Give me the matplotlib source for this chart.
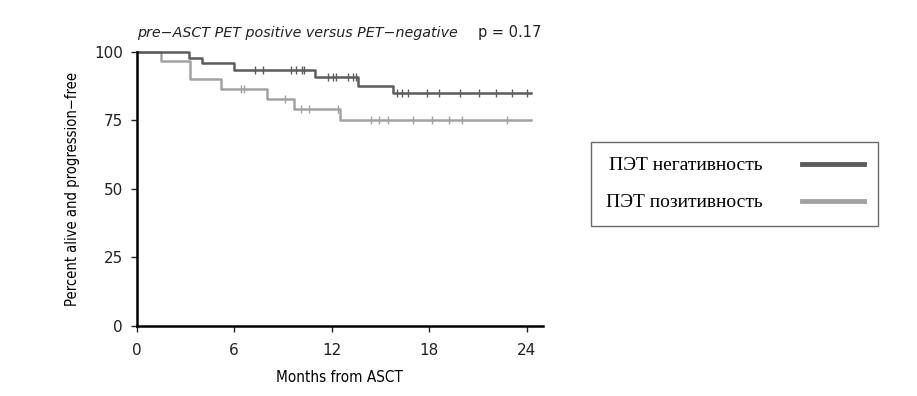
import matplotlib.pyplot as plt
import numpy as np
from matplotlib.lines import Line2D

# step curves (months, percent)
NEG_T = [0, 3.2, 4.0, 6.0, 11.0, 13.6, 15.8]
NEG_S = [100, 97.9, 95.8, 93.3, 91.0, 87.7, 84.9]
NEG_CENS = [7.3, 7.8, 9.5, 9.8, 10.2, 10.3, 11.8, 12.1, 12.3, 13.0, 13.3, 13.5,
            16.0, 16.35, 16.7, 17.9, 18.6, 19.9, 21.05, 22.1, 23.1, 24.0]
NEG_END = 24.3

POS_T = [0, 1.5, 3.3, 5.2, 8.0, 9.7, 12.5]
POS_S = [100, 96.7, 90.0, 86.5, 82.8, 79.1, 75.2]
POS_CENS = [6.4, 6.6, 9.15, 10.1, 10.6, 12.4, 14.4, 14.9, 15.5, 17.0, 18.2,
            19.2, 20.0, 22.8]
POS_END = 24.3

DARK = "#5c5c5c"
LIGHT = "#a2a2a2"


def step_xy(t, s, end):
    x = list(t) + [end]
    y = list(s) + [s[-1]]
    return x, y


def surv_at(t, s, x):
    idx = np.searchsorted(t, x, side="right") - 1
    return np.array(s)[idx]


fig = plt.figure(figsize=(9.17, 3.96), dpi=100)
ax = fig.add_axes([0.149, 0.177, 0.443, 0.692])

for t, s, end, cens, col in [(POS_T, POS_S, POS_END, POS_CENS, LIGHT),
                             (NEG_T, NEG_S, NEG_END, NEG_CENS, DARK)]:
    x, y = step_xy(t, s, end)
    ax.step(x, y, where="post", color=col, lw=1.8, clip_on=False)
    ax.plot(cens, surv_at(t, s, cens), ls="none", marker="|", ms=6,
            mew=1.0, color=col, clip_on=False)

ax.set_xlim(0, 25)
ax.set_ylim(0, 100)
ax.set_xticks([0, 6, 12, 18, 24])
ax.set_yticks([0, 25, 50, 75, 100])
ax.spines["top"].set_visible(False)
ax.spines["right"].set_visible(False)
ax.spines["left"].set_linewidth(1.8)
ax.spines["bottom"].set_linewidth(1.8)
ax.tick_params(length=4, width=1, labelsize=11, colors="#222222")
ax.tick_params(axis="x", pad=8)
ax.tick_params(axis="y", pad=6)
ax.set_xlabel("Months from ASCT", fontstretch="condensed", fontsize=11,
              labelpad=9)
ax.set_ylabel("Percent alive and progression\u2212free",
              fontstretch="condensed", fontsize=10.5, labelpad=10)

fig.text(0.149, 0.9, "pre\u2212ASCT PET positive versus PET\u2212negative",
         style="italic", fontsize=10.3, color="#222222", va="bottom")
fig.text(0.521, 0.9, "p = 0.17", fontsize=10.5, color="#222222", va="bottom")

handles = [Line2D([], [], color=DARK, lw=3.5),
           Line2D([], [], color=LIGHT, lw=3.5)]
leg = fig.legend(handles, ["ПЭТ негативность", "ПЭТ позитивность"],
                 loc="center left", bbox_to_anchor=(0.645, 0.535),
                 markerfirst=False, fancybox=False, edgecolor="#444444",
                 prop={"family": "Liberation Serif", "size": 14},
                 handlelength=3.2, handletextpad=2.0, labelspacing=1.0,
                 borderpad=0.75, borderaxespad=0)
leg.get_frame().set_linewidth(1.0)

fig.savefig("out.png", dpi=100)
